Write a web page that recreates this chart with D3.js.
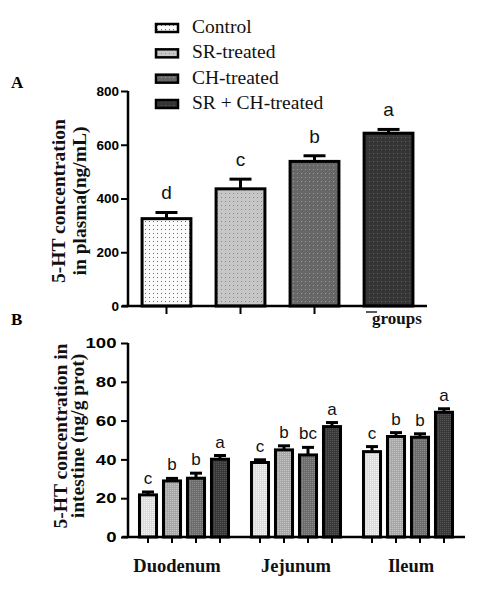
<!DOCTYPE html>
<html><head><meta charset="utf-8">
<script src="https://cdn.jsdelivr.net/npm/d3@7"></script>
<style>body{margin:0;background:#fff}svg{display:block}</style>
</head><body>
<svg id="c" width="500" height="589"></svg>
<script>
// ---- data ----
const seriesNames = ["Control", "SR-treated", "CH-treated", "SR + CH-treated"];
const plasmaMean = [325, 436, 538, 643];
const plasmaErr = [23, 36, 21, 14];
const plasmaLetters = ["d", "c", "b", "a"];
const plasmaTicks = [0, 200, 400, 600, 800];

const segments = ["Duodenum", "Jejunum", "Ileum"];
const duodenumMean = [21.7, 28.9, 30.3, 40.1];
const duodenumErr = [1.5, 1.3, 2.6, 1.9];
const duodenumLetters = ["c", "b", "b", "a"];
const jejunumMean = [38.4, 44.9, 42.3, 56.9];
const jejunumErr = [1.4, 2.1, 3.9, 2.1];
const jejunumLetters = ["c", "b", "bc", "a"];
const ileumMean = [44.0, 51.8, 51.4, 64.3];
const ileumErr = [2.6, 2.0, 1.8, 1.8];
const ileumLetters = ["c", "b", "b", "a"];
const intestineTicks = [0, 20, 40, 60, 80, 100];

// ---- styles ----
const fillA = ["#fbfbfb", "#c6c6c6", "#676767", "#363636"];
const dotA = ["#6a6a6a", "#8a8a8a", "#9a9a9a", "#5e5e5e"];
const fillB = ["#dcdcdc", "#a6a6a6", "#6c6c6c", "#393939"];
const dotB = ["#f4f4f4", "#c8c8c8", "#8c8c8c", "#555"];
const serif = "'Liberation Serif','Times New Roman',serif";
const sans = "'Liberation Sans',Arial,sans-serif";

const svg = d3.select("#c");
const defs = svg.append("defs");
seriesNames.forEach((s, i) => {
  const pa = defs.append("pattern").attr("id", "pa" + i).attr("patternUnits", "userSpaceOnUse")
    .attr("width", 4).attr("height", 4);
  pa.append("rect").attr("width", 4).attr("height", 4).attr("fill", fillA[i]);
  pa.append("rect").attr("x", 1).attr("y", 1).attr("width", 1).attr("height", 1).attr("fill", dotA[i]);
  const pb = defs.append("pattern").attr("id", "pb" + i).attr("patternUnits", "userSpaceOnUse")
    .attr("width", 2).attr("height", 2);
  pb.append("rect").attr("width", 2).attr("height", 2).attr("fill", fillB[i]);
  pb.append("rect").attr("x", 0).attr("y", 0).attr("width", 1).attr("height", 1).attr("fill", dotB[i]);
});

// ---- Legend ----
const legY = d3.scalePoint().domain(seriesNames).range([33, 109]);
const leg = svg.append("g");
seriesNames.forEach((s, i) => {
  leg.append("rect").attr("x", 156).attr("y", legY(s) - 9).attr("width", 22).attr("height", 8)
    .attr("fill", `url(#pa${i})`).attr("stroke", "#000").attr("stroke-width", 2.5);
  leg.append("text").attr("x", 192).attr("y", legY(s)).attr("font-family", serif)
    .attr("font-size", 19.5).attr("fill", "#111").text(s);
});

// ---- Panel A ----
const xA = d3.scaleBand().domain(seriesNames).range([128, 427]).paddingInner(0.34).paddingOuter(0.19);
const yA = d3.scaleLinear().domain([0, 800]).range([306, 91]);

svg.append("text").attr("x", 11).attr("y", 88).attr("font-family", serif).attr("font-weight", "bold")
  .attr("font-size", 17).text("A");

const axA = svg.append("g").attr("transform", "translate(128,0)")
  .call(d3.axisLeft(yA).tickValues(plasmaTicks).tickSize(7).tickPadding(2).tickFormat(d3.format("d")));
axA.select(".domain").attr("stroke-width", 2.5).attr("d", `M0,${yA(800)}V${yA(0)}`);
axA.selectAll(".tick line").attr("stroke-width", 2);
axA.selectAll(".tick text").attr("font-family", sans).attr("font-weight", "bold").attr("font-size", 13.5).attr("fill", "#000");

const gA = svg.append("g");
seriesNames.forEach((s, i) => {
  const cx = xA(s) + xA.bandwidth() / 2;
  gA.append("rect").attr("x", xA(s)).attr("y", yA(plasmaMean[i])).attr("width", xA.bandwidth())
    .attr("height", yA(0) - yA(plasmaMean[i])).attr("fill", `url(#pa${i})`)
    .attr("stroke", "#000").attr("stroke-width", 3);
  const ty = yA(plasmaMean[i] + plasmaErr[i]);
  gA.append("line").attr("x1", cx).attr("x2", cx).attr("y1", yA(plasmaMean[i])).attr("y2", ty)
    .attr("stroke", "#000").attr("stroke-width", 3);
  gA.append("line").attr("x1", cx - 11).attr("x2", cx + 11).attr("y1", ty).attr("y2", ty)
    .attr("stroke", "#000").attr("stroke-width", 3);
  gA.append("text").attr("x", cx).attr("y", ty - 13).attr("text-anchor", "middle")
    .attr("font-family", sans).attr("font-size", 19).attr("fill", "#111").text(plasmaLetters[i]);
});
// x axis A
svg.append("line").attr("x1", 122).attr("x2", 427).attr("y1", yA(0)).attr("y2", yA(0))
  .attr("stroke", "#000").attr("stroke-width", 2.5);
seriesNames.slice(0, 3).forEach(s => {
  const cx = xA(s) + xA.bandwidth() / 2;
  svg.append("line").attr("x1", cx).attr("x2", cx).attr("y1", yA(0)).attr("y2", yA(0) + 8)
    .attr("stroke", "#000").attr("stroke-width", 2);
});
svg.append("line").attr("x1", 366).attr("x2", 377).attr("y1", 312).attr("y2", 312)
  .attr("stroke", "#222").attr("stroke-width", 1.5);
svg.append("text").attr("x", 397).attr("y", 324).attr("text-anchor", "middle").attr("font-family", serif)
  .attr("font-weight", "bold").attr("font-size", 17).attr("fill", "#111").text("groups");

// y title A
const tA = svg.append("text").attr("transform", "translate(65,201) rotate(-90)").attr("text-anchor", "middle")
  .attr("font-family", serif).attr("font-weight", "bold").attr("font-size", 19.5).attr("fill", "#111");
tA.append("tspan").attr("x", 0).attr("y", 0).text("5-HT concentration");
tA.append("tspan").attr("x", 0).attr("y", 21).text("in plasma(ng/mL)");

// ---- Panel B ----
svg.append("text").attr("x", 11).attr("y", 325).attr("font-family", serif).attr("font-weight", "bold")
  .attr("font-size", 17).text("B");

const xB = d3.scaleBand().domain(segments).range([128, 464]).paddingInner(0.143).paddingOuter(0.0715);
const xB1 = d3.scaleBand().domain(seriesNames).range([0, xB.bandwidth()]).paddingInner(0.29).paddingOuter(0.145);
const yB = d3.scaleLinear().domain([0, 100]).range([537, 343]);

const axB = svg.append("g").attr("transform", "translate(128,0)")
  .call(d3.axisLeft(yB).tickValues(intestineTicks).tickSize(7).tickPadding(2).tickFormat(d3.format("d")));
axB.select(".domain").attr("stroke-width", 2.5).attr("d", `M0,${yB(100)}V${yB(0)}`);
axB.selectAll(".tick line").attr("stroke-width", 2);
axB.selectAll(".tick text").attr("font-family", sans).attr("font-weight", "bold").attr("font-size", 14.5)
  .attr("fill", "#000").attr("transform", "scale(1.28,1)");

const meansB = [duodenumMean, jejunumMean, ileumMean];
const errsB = [duodenumErr, jejunumErr, ileumErr];
const lettersB = [duodenumLetters, jejunumLetters, ileumLetters];
const labelDx = [-7, 0, 3];
const gB = svg.append("g");
segments.forEach((seg, g) => {
  seriesNames.forEach((s, i) => {
    const x = xB(seg) + xB1(s);
    const w = xB1.bandwidth();
    const cx = x + w / 2;
    const v = meansB[g][i];
    gB.append("rect").attr("x", x).attr("y", yB(v)).attr("width", w).attr("height", yB(0) - yB(v))
      .attr("fill", `url(#pb${i})`).attr("stroke", "#000").attr("stroke-width", 3);
    const ty = yB(v + errsB[g][i]);
    gB.append("line").attr("x1", cx).attr("x2", cx).attr("y1", yB(v)).attr("y2", ty)
      .attr("stroke", "#000").attr("stroke-width", 3);
    gB.append("line").attr("x1", cx - 6).attr("x2", cx + 6).attr("y1", ty).attr("y2", ty)
      .attr("stroke", "#000").attr("stroke-width", 3);
    gB.append("text").attr("x", cx).attr("y", ty - 8).attr("text-anchor", "middle")
      .attr("font-family", sans).attr("font-size", 17).attr("fill", "#111").text(lettersB[g][i]);
    gB.append("line").attr("x1", cx).attr("x2", cx).attr("y1", yB(0)).attr("y2", yB(0) + 6)
      .attr("stroke", "#000").attr("stroke-width", 2);
  });
  svg.append("text").attr("x", xB(seg) + xB.bandwidth() / 2 + labelDx[g]).attr("y", 572)
    .attr("text-anchor", "middle").attr("font-family", serif).attr("font-weight", "bold")
    .attr("font-size", 18.5).attr("fill", "#111").text(seg);
});
svg.append("line").attr("x1", 122).attr("x2", 465).attr("y1", yB(0)).attr("y2", yB(0))
  .attr("stroke", "#000").attr("stroke-width", 2.5);

const tB = svg.append("text").attr("transform", "translate(67,436) rotate(-90)").attr("text-anchor", "middle")
  .attr("font-family", serif).attr("font-weight", "bold").attr("font-size", 19.5).attr("fill", "#111");
tB.append("tspan").attr("x", 0).attr("y", 0).text("5-HT concentration in");
tB.append("tspan").attr("x", 0).attr("y", 17).text("intestine (ng/g prot)");
</script>
</body></html>
